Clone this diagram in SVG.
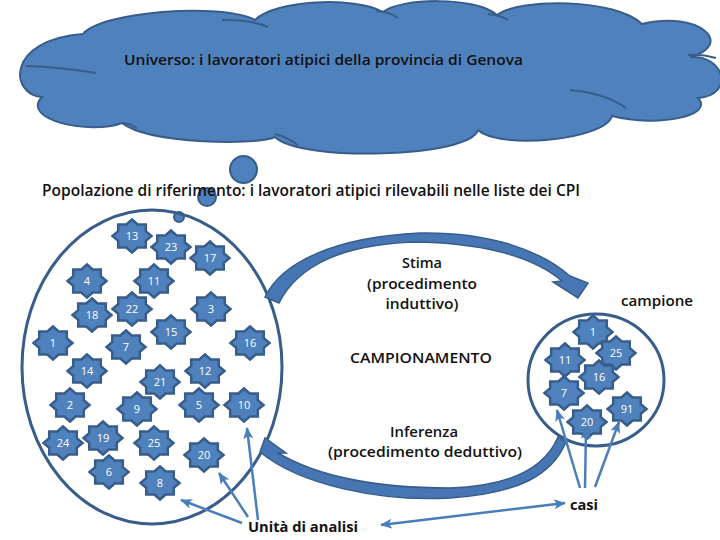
<svg xmlns="http://www.w3.org/2000/svg" xmlns:xlink="http://www.w3.org/1999/xlink" width="720" height="540" viewBox="0 0 720 540">
<style>
.lbl{font-family:"Open Sans","Liberation Sans",Arial,sans-serif;font-weight:600;font-size:15px;fill:#111}
.b{font-weight:bold}
.st{fill:#4f81bd;stroke:#385d8a;stroke-width:2.5;stroke-linejoin:miter}
.sn{font-family:"Open Sans","Liberation Sans",Arial,sans-serif;font-size:11px;fill:#fff;text-anchor:middle}
.thin{stroke:#4a7ebb;stroke-width:2.5;fill:none}
.blk{fill:#4676b4;stroke:#385d8a;stroke-width:1.5}
.ring{fill:none;stroke:#385d8a;stroke-width:3}
.bub{fill:#4f81bd;stroke:#385d8a;stroke-width:2}
</style>
<defs>
<path id="star" d="M19.5,0 L13.8,4.8 L13.8,11.6 L5.7,11.6 L0,16.5 L-5.7,11.6 L-13.8,11.6 L-13.8,4.8 L-19.5,0 L-13.8,-4.8 L-13.8,-11.6 L-5.7,-11.6 L0,-16.5 L5.7,-11.6 L13.8,-11.6 L13.8,-4.8 Z"/>
<marker id="ah" viewBox="0 0 12 10" refX="11" refY="5" markerWidth="12" markerHeight="10" markerUnits="userSpaceOnUse" orient="auto-start-reverse">
<path d="M0,0 L12,5 L0,10 L3,5 Z" fill="#4a7ebb"/>
</marker>
</defs>
<rect width="720" height="540" fill="#fff"/>

<g id="universo">
<path class="bub" d="M83,34 C100,12 220,2 255,20 C275,0 355,-4 383,12 C400,-2 475,-4 497,15 C520,-2 615,-2 642,24 C700,10 735,45 690,57 C725,55 735,95 698,98 C715,115 660,128 612,116 C605,140 500,150 478,130 C470,158 300,162 275,137 C260,145 150,145 122,123 C90,135 20,120 42,97 C10,95 5,40 83,34 Z"/>
<g fill="none" stroke="#385d8a" stroke-width="2">
<path d="M26,66 Q60,67 96,73"/>
<path d="M222,20 Q250,19 268,27"/>
<path d="M376,11 Q390,12 398,18"/>
<path d="M488,14 Q500,15 508,20"/>
<path d="M688,55 Q702,54 716,58"/>
<path d="M570,90 Q605,93 626,108"/>
<path d="M275,134 Q287,137 298,145"/>
<path d="M124,123 Q131,124 137,128"/>
</g>
<text class="lbl" x="124" y="65" textLength="399" lengthAdjust="spacingAndGlyphs">Universo: i lavoratori atipici della provincia di Genova</text>
</g>

<g id="bubbles">
<ellipse class="bub" cx="243.5" cy="169.5" rx="13.5" ry="13.5"/>
<circle class="bub" cx="207" cy="197" r="9"/>
<circle class="bub" cx="179" cy="217" r="5"/>
</g>

<g id="popolazione-label">
<text class="lbl" x="42" y="196" textLength="538" lengthAdjust="spacingAndGlyphs" style="font-size:16px">Popolazione di riferimento: i lavoratori atipici rilevabili nelle liste dei CPI</text>
</g>

<g id="popolazione">
<ellipse class="ring" cx="152" cy="367" rx="130" ry="157"/>
</g>
<g id="campione-set">
<ellipse class="ring" cx="596" cy="380" rx="68" ry="66"/>
</g>

<g id="pop-units">
<g id="p13"><use href="#star" x="132" y="236" class="st"/><text class="sn" x="132" y="240">13</text></g>
<g id="p23"><use href="#star" x="171" y="247" class="st"/><text class="sn" x="171" y="251">23</text></g>
<g id="p17"><use href="#star" x="210" y="258" class="st"/><text class="sn" x="210" y="262">17</text></g>
<g id="p4"><use href="#star" x="87" y="281" class="st"/><text class="sn" x="87" y="285">4</text></g>
<g id="p11"><use href="#star" x="154" y="281" class="st"/><text class="sn" x="154" y="285">11</text></g>
<g id="p18"><use href="#star" x="92" y="315" class="st"/><text class="sn" x="92" y="319">18</text></g>
<g id="p22"><use href="#star" x="132" y="309" class="st"/><text class="sn" x="132" y="313">22</text></g>
<g id="p3"><use href="#star" x="211" y="309" class="st"/><text class="sn" x="211" y="313">3</text></g>
<g id="p15"><use href="#star" x="171" y="332" class="st"/><text class="sn" x="171" y="336">15</text></g>
<g id="p1"><use href="#star" x="53" y="343" class="st"/><text class="sn" x="53" y="347">1</text></g>
<g id="p7"><use href="#star" x="126" y="347" class="st"/><text class="sn" x="126" y="351">7</text></g>
<g id="p16"><use href="#star" x="250" y="343" class="st"/><text class="sn" x="250" y="347">16</text></g>
<g id="p14"><use href="#star" x="87" y="371" class="st"/><text class="sn" x="87" y="375">14</text></g>
<g id="p12"><use href="#star" x="205" y="371" class="st"/><text class="sn" x="205" y="375">12</text></g>
<g id="p21"><use href="#star" x="160" y="382" class="st"/><text class="sn" x="160" y="386">21</text></g>
<g id="p2"><use href="#star" x="70" y="405" class="st"/><text class="sn" x="70" y="409">2</text></g>
<g id="p9"><use href="#star" x="137" y="409" class="st"/><text class="sn" x="137" y="413">9</text></g>
<g id="p5"><use href="#star" x="199" y="405" class="st"/><text class="sn" x="199" y="409">5</text></g>
<g id="p10"><use href="#star" x="244" y="405" class="st"/><text class="sn" x="244" y="409">10</text></g>
<g id="p24"><use href="#star" x="63" y="443" class="st"/><text class="sn" x="63" y="447">24</text></g>
<g id="p19"><use href="#star" x="103" y="438" class="st"/><text class="sn" x="103" y="442">19</text></g>
<g id="p25"><use href="#star" x="154" y="443" class="st"/><text class="sn" x="154" y="447">25</text></g>
<g id="p20"><use href="#star" x="204" y="455" class="st"/><text class="sn" x="204" y="459">20</text></g>
<g id="p6"><use href="#star" x="109" y="472" class="st"/><text class="sn" x="109" y="476">6</text></g>
<g id="p8"><use href="#star" x="160" y="483" class="st"/><text class="sn" x="160" y="487">8</text></g>
</g>

<g id="sample-units">
<g id="s1"><use href="#star" x="593" y="332" class="st"/><text class="sn" x="593" y="336">1</text></g>
<g id="s11"><use href="#star" x="565" y="360" class="st"/><text class="sn" x="565" y="364">11</text></g>
<g id="s25"><use href="#star" x="616" y="353" class="st"/><text class="sn" x="616" y="357">25</text></g>
<g id="s16"><use href="#star" x="599" y="377" class="st"/><text class="sn" x="599" y="381">16</text></g>
<g id="s7"><use href="#star" x="564" y="393" class="st"/><text class="sn" x="564" y="397">7</text></g>
<g id="s91"><use href="#star" x="627" y="409" class="st"/><text class="sn" x="627" y="413">91</text></g>
<g id="s20"><use href="#star" x="587" y="422" class="st"/><text class="sn" x="587" y="426">20</text></g>
</g>

<g id="connectors">
<path class="blk" d="M265,297 C282,262 335,237 420,233 C490,232 540,250 570,276 L588,283 L578,298 L553,282 L562,281 C535,258 490,244 420,242 C345,243 298,265 279,303 Z"/>
<path class="blk" d="M566,442 C552,475 520,493 450,498 C380,502 300,485 260,452 L265,438 L286,453 L278,453 C320,478 380,488 450,488 C510,486 545,468 558,437 Z"/>
<line class="thin" x1="242" y1="523" x2="181" y2="500" marker-end="url(#ah)"/>
<line class="thin" x1="248" y1="517" x2="219" y2="473" marker-end="url(#ah)"/>
<line class="thin" x1="258" y1="520" x2="247" y2="428" marker-end="url(#ah)"/>
<line class="thin" x1="381" y1="525" x2="565" y2="503" marker-start="url(#ah)" marker-end="url(#ah)"/>
<line class="thin" x1="580" y1="488" x2="557" y2="410" marker-end="url(#ah)"/>
<line class="thin" x1="585" y1="488" x2="586" y2="428" marker-end="url(#ah)"/>
<line class="thin" x1="595" y1="487" x2="619" y2="422" marker-end="url(#ah)"/>
</g>

<g id="labels">
<text class="lbl" x="422" y="268" text-anchor="middle" textLength="40" lengthAdjust="spacingAndGlyphs">Stima</text>
<text class="lbl" x="422" y="289" text-anchor="middle" textLength="110" lengthAdjust="spacingAndGlyphs">(procedimento</text>
<text class="lbl" x="422" y="309" text-anchor="middle" textLength="73" lengthAdjust="spacingAndGlyphs">induttivo)</text>
<text class="lbl" x="421" y="363" text-anchor="middle" textLength="142" lengthAdjust="spacingAndGlyphs">CAMPIONAMENTO</text>
<text class="lbl" x="657" y="306" text-anchor="middle" textLength="72" lengthAdjust="spacingAndGlyphs">campione</text>
<text class="lbl" x="424" y="437" text-anchor="middle" textLength="68" lengthAdjust="spacingAndGlyphs">Inferenza</text>
<text class="lbl" x="425" y="457" text-anchor="middle" textLength="194" lengthAdjust="spacingAndGlyphs">(procedimento deduttivo)</text>
<text class="lbl b" x="248" y="532" textLength="110" lengthAdjust="spacingAndGlyphs">Unità di analisi</text>
<text class="lbl b" x="570" y="510" textLength="28" lengthAdjust="spacingAndGlyphs">casi</text>
</g>
</svg>
